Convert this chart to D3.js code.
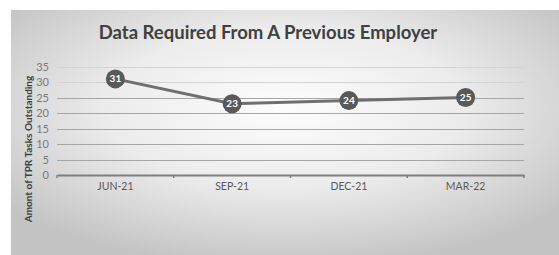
<!DOCTYPE html>
<html>
<head>
<meta charset="utf-8">
<script src="https://cdn.jsdelivr.net/npm/d3@7"></script>
<style>
  body { margin: 0; background: #fff; }
  svg { display: block; }
</style>
</head>
<body>
<div id="chart"></div>
<script>
// chart data
const categories = ["JUN-21", "SEP-21", "DEC-21", "MAR-22"];
const tasksOutstanding = [31, 23, 24, 25];
const yTicks = [0, 5, 10, 15, 20, 25, 30, 35];

const width = 559;
const height = 255;
const margin = { top: 66.5, right: 35, bottom: 80, left: 57 };
const font = "Lato, Open Sans, sans-serif";

const svg = d3.select("#chart")
    .append("svg")
    .attr("width", width)
    .attr("height", height);

const defs = svg.append("defs");
const grad = defs.append("radialGradient")
    .attr("id", "bg")
    .attr("cx", "50%").attr("cy", "40%")
    .attr("r", "65%");
grad.append("stop").attr("offset", "0%").attr("stop-color", "#fdfdfd");
grad.append("stop").attr("offset", "50%").attr("stop-color", "#ececec");
grad.append("stop").attr("offset", "100%").attr("stop-color", "#c4c4c4");

// panel
svg.append("rect")
    .attr("x", 11).attr("y", 10)
    .attr("width", width - 11).attr("height", height - 10)
    .attr("fill", "url(#bg)");

svg.append("text")
    .attr("x", 268).attr("y", 39)
    .attr("text-anchor", "middle")
    .attr("font-family", font)
    .attr("font-weight", "700")
    .attr("font-size", 18.5)
    .attr("fill", "#404040")
    .text("Data Required From A Previous Employer");

const x = d3.scaleBand()
    .domain(categories)
    .range([margin.left, width - margin.right]);

const y = d3.scaleLinear()
    .domain([0, 35])
    .range([height - margin.bottom, margin.top]);

// gridlines
svg.append("g")
    .selectAll("line")
    .data(yTicks.filter(d => d > 0))
    .join("line")
    .attr("x1", margin.left)
    .attr("x2", width - margin.right)
    .attr("y1", d => Math.round(y(d)) + 0.5)
    .attr("y2", d => Math.round(y(d)) + 0.5)
    .attr("stroke", d => d >= 30 ? "#d4d4d4" : "#a6a6a6")
    .attr("stroke-width", 1);

// y axis labels
const yAxis = svg.append("g")
    .attr("transform", `translate(${margin.left - 8},0)`)
    .call(d3.axisLeft(y).tickValues(yTicks).tickSize(0).tickPadding(0));
yAxis.select(".domain").remove();
yAxis.selectAll("text")
    .attr("font-family", font)
    .attr("font-size", 11)
    .attr("fill", "#7a7a7a");

// x axis
const xAxis = svg.append("g")
    .attr("transform", `translate(0,${y(0)})`)
    .call(d3.axisBottom(x).tickSize(0).tickPadding(8));
xAxis.select(".domain")
    .attr("stroke", "#7f7f7f")
    .attr("stroke-width", 2);
xAxis.selectAll("text")
    .attr("font-family", font)
    .attr("font-size", 10.5)
    .attr("fill", "#595959");

// category boundary tick marks
svg.append("g")
    .selectAll("line")
    .data(categories.concat(["end"]))
    .join("line")
    .attr("x1", (d, i) => i < categories.length ? x(d) : x.range()[1])
    .attr("x2", (d, i) => i < categories.length ? x(d) : x.range()[1])
    .attr("y1", y(0))
    .attr("y2", y(0) + 3)
    .attr("stroke", "#7f7f7f")
    .attr("stroke-width", 1.5);

// y axis title
svg.append("text")
    .attr("transform", `translate(32,${149}) rotate(-90)`)
    .attr("text-anchor", "middle")
    .attr("font-family", font)
    .attr("font-weight", "700")
    .attr("font-size", 10)
    .attr("fill", "#404040")
    .text("Amont of TPR Tasks Outstanding");

const points = categories.map((c, i) => ({ cat: c, value: tasksOutstanding[i] }));
const cx = d => x(d.cat) + x.bandwidth() / 2;

// line
svg.append("path")
    .datum(points)
    .attr("fill", "none")
    .attr("stroke", "#6f6f6f")
    .attr("stroke-width", 3)
    .attr("d", d3.line().x(cx).y(d => y(d.value)));

// markers with value labels
const marks = svg.append("g")
    .selectAll("g")
    .data(points)
    .join("g")
    .attr("transform", d => `translate(${cx(d)},${y(d.value)})`);

marks.append("circle")
    .attr("r", 9.5)
    .attr("fill", "#595959");

marks.append("text")
    .attr("text-anchor", "middle")
    .attr("dy", "0.35em")
    .attr("font-family", font)
    .attr("font-weight", "700")
    .attr("font-size", 10)
    .attr("fill", "#fff")
    .text(d => d.value);
</script>
</body>
</html>
